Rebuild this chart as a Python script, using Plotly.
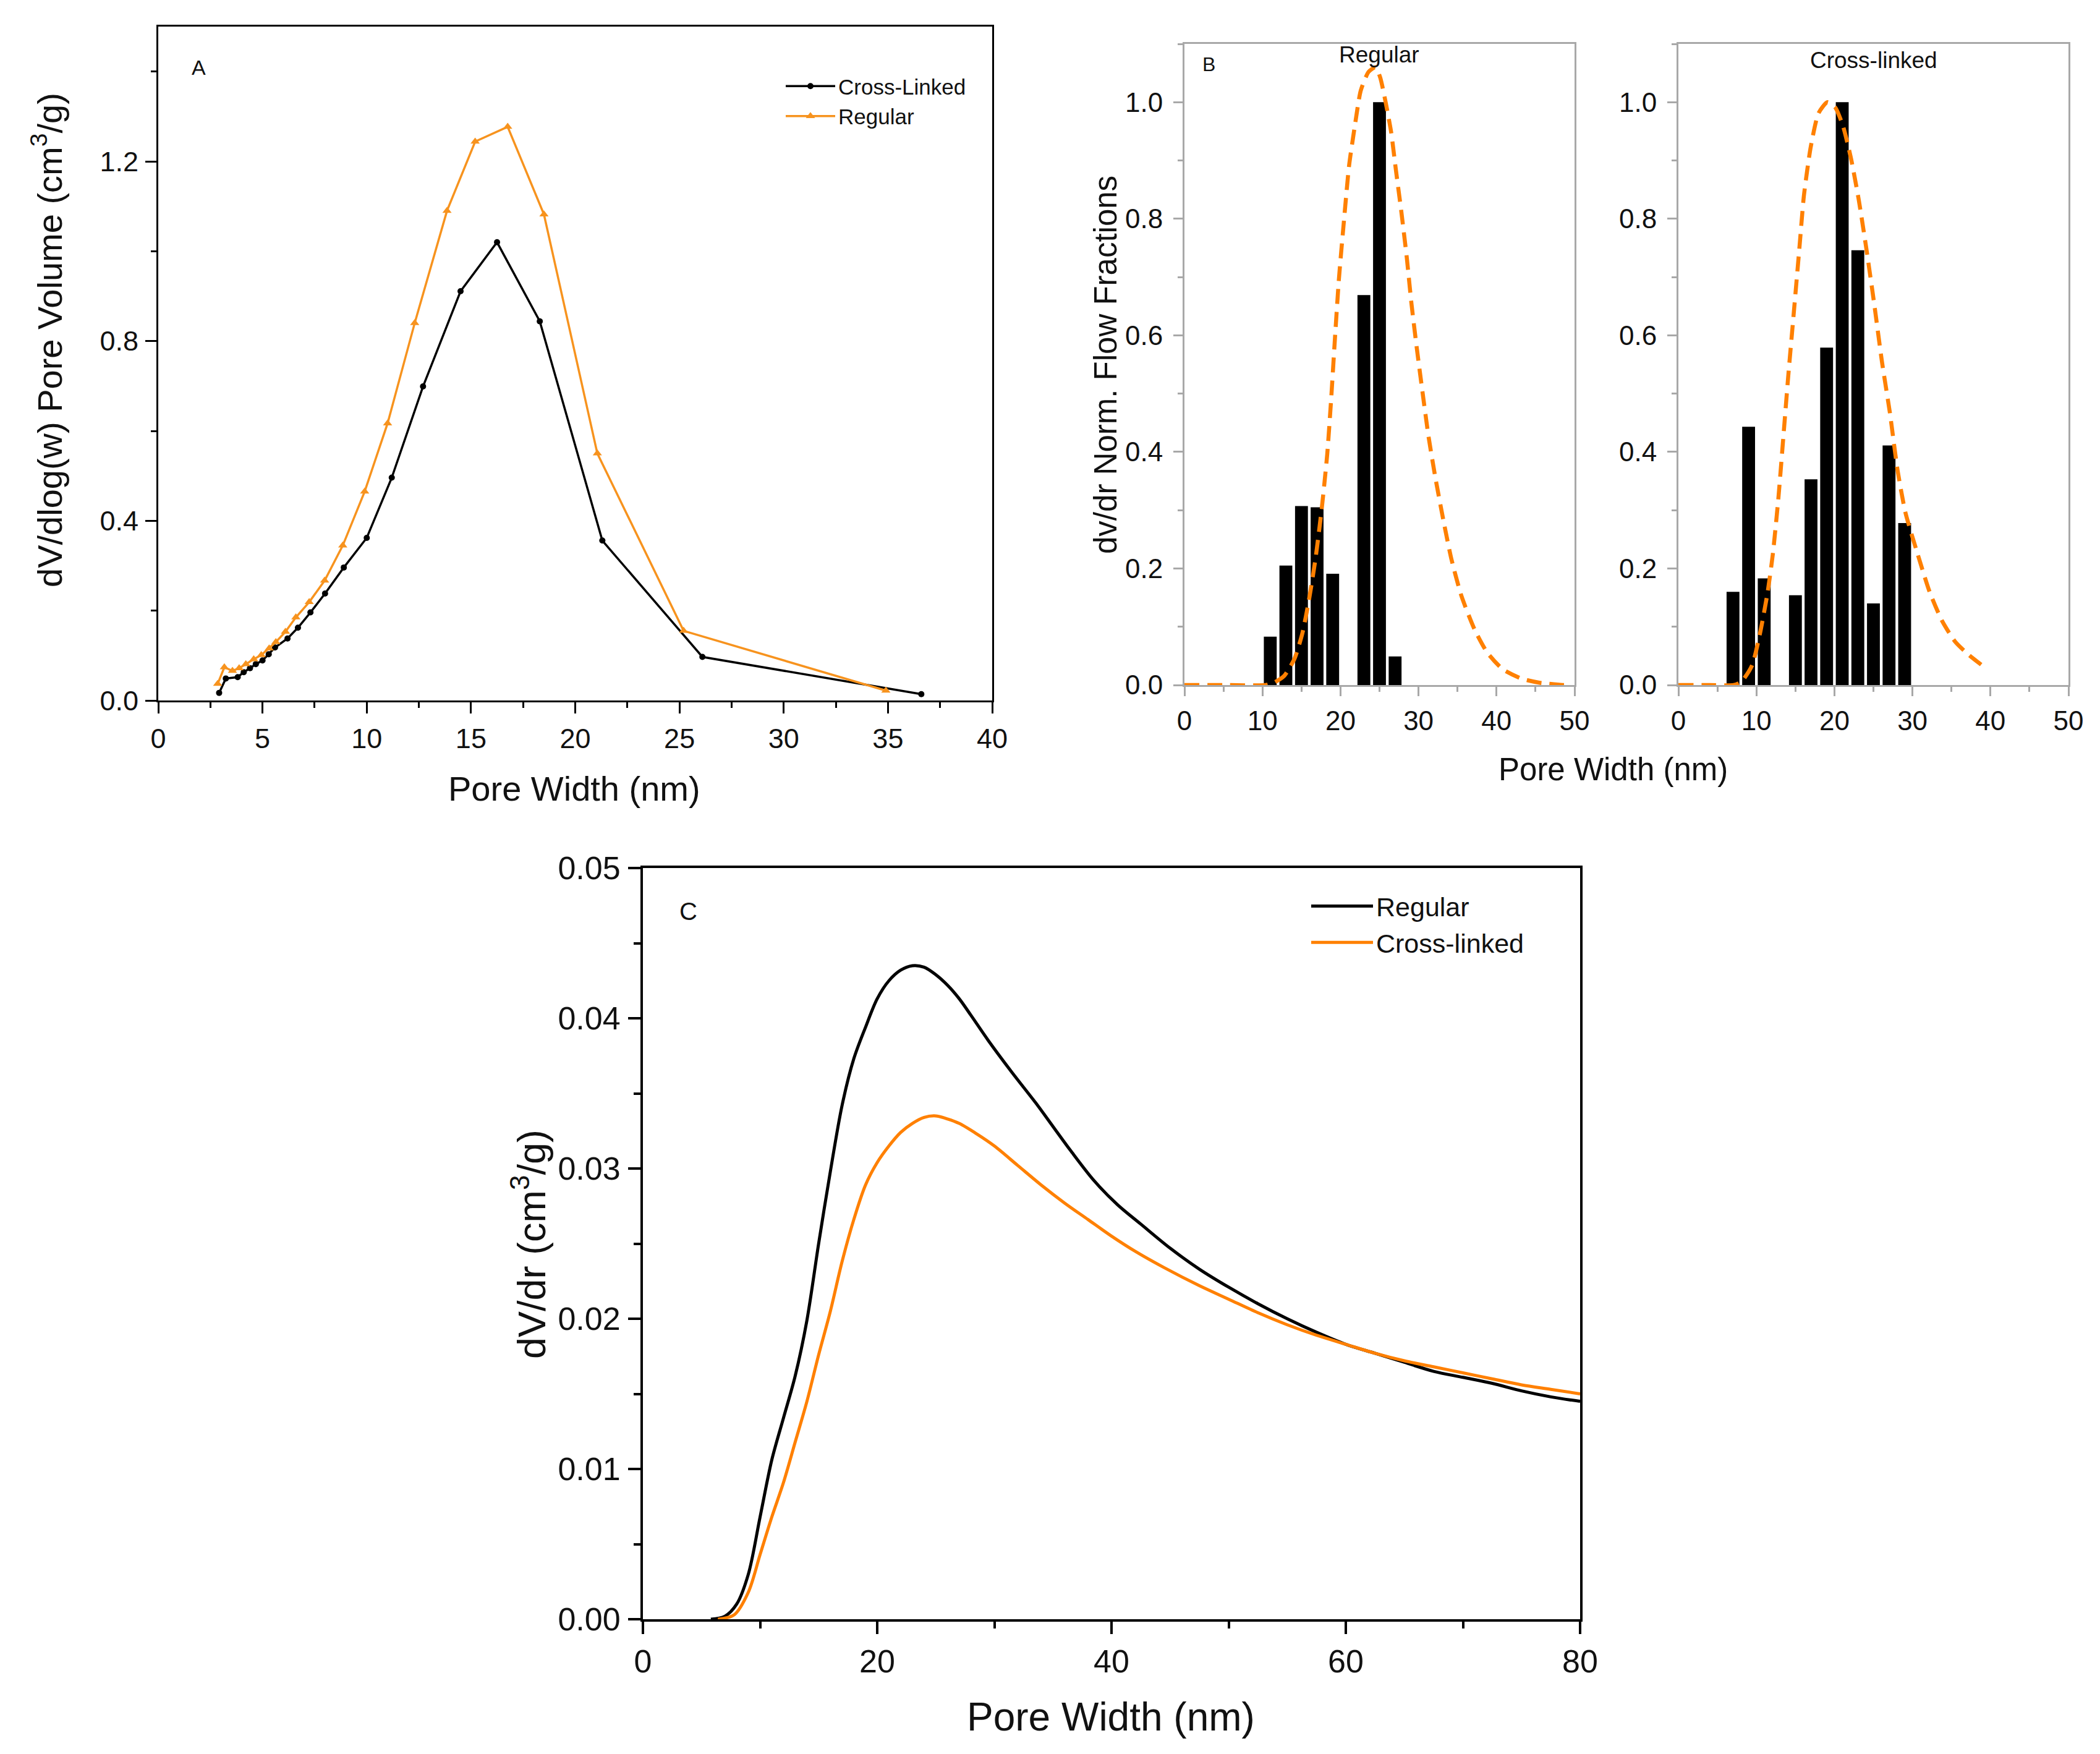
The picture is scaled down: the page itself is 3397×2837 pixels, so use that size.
import plotly.graph_objects as go

# ---- panel A: dV/dlog(w) pore volume ----
a_cl_width = [2.92, 3.24, 3.81, 4.1, 4.4, 4.68, 5.0, 5.3, 5.6, 6.2, 6.7, 7.3, 8.0, 8.9,
              10.0, 11.2, 12.7, 14.5, 16.25, 18.3, 21.3, 26.1, 36.6]
a_cl_vol = [0.017, 0.049, 0.052, 0.063, 0.072, 0.081, 0.089, 0.103, 0.118, 0.138, 0.162,
            0.196, 0.238, 0.296, 0.362, 0.496, 0.699, 0.911, 1.02, 0.844, 0.356, 0.097, 0.014]
a_reg_width = [2.85, 3.17, 3.56, 3.88, 4.2, 4.58, 4.94, 5.32, 5.64, 6.1, 6.6, 7.24, 7.98,
               8.85, 9.9, 11.0, 12.3, 13.85, 15.2, 16.76, 18.5, 21.06, 25.2, 34.9]
a_reg_vol = [0.037, 0.074, 0.066, 0.072, 0.081, 0.092, 0.101, 0.116, 0.130, 0.153, 0.185,
             0.219, 0.267, 0.345, 0.465, 0.617, 0.840, 1.090, 1.244, 1.277, 1.082, 0.550,
             0.155, 0.022]

# ---- panel B: normalised flow fractions ----
b_reg_bins = [11, 13, 15, 17, 19, 23, 25, 27]
b_reg_frac = [0.083, 0.205, 0.307, 0.305, 0.191, 0.669, 1.0, 0.049]
b_reg_fit_x = [0, 5, 10.4, 11.45, 12.8, 14.1, 15.1, 15.96, 16.8, 17.6, 18.3, 18.8, 19.3,
               19.8, 20.5, 21.1, 21.8, 22.6, 23.6, 24.5, 25.1, 25.8, 26.5, 27.1, 27.8,
               28.5, 29.1, 29.8, 30.5, 31.3, 32.2, 33.2, 34.2, 35.5, 37.2, 38.8, 40.8,
               43.2, 45.5, 48.5, 49.5]
b_reg_fit_y = [0, 0, 0, 0.004, 0.016, 0.045, 0.088, 0.146, 0.217, 0.303, 0.396, 0.490,
               0.597, 0.697, 0.805, 0.891, 0.956, 1.020, 1.052, 1.06, 1.042, 0.999, 0.948,
               0.884, 0.812, 0.733, 0.654, 0.576, 0.504, 0.425, 0.353, 0.282, 0.217, 0.153,
               0.095, 0.056, 0.027, 0.011, 0.004, 0, 0]

b_cl_bins = [7, 9, 11, 15, 17, 19, 21, 23, 25, 27, 29]
b_cl_frac = [0.160, 0.443, 0.183, 0.154, 0.353, 0.579, 1.0, 0.746, 0.140, 0.411, 0.278]
b_cl_fit_x = [0, 4, 7.1, 8.1, 9.45, 10.45, 11.45, 12.1, 12.8, 13.45, 14.1, 14.8, 15.5,
              16.1, 16.96, 17.96, 19.1, 20.1, 21.1, 22.1, 23.1, 24.1, 25.1, 26.1, 27.1,
              28.1, 29.1, 30.5, 32.2, 33.8, 35.5, 37.2, 39.2]
b_cl_fit_y = [0, 0, 0, 0.006, 0.034, 0.088, 0.160, 0.224, 0.318, 0.425, 0.533, 0.640,
              0.748, 0.841, 0.923, 0.981, 1.0, 0.991, 0.959, 0.905, 0.834, 0.748, 0.654,
              0.554, 0.468, 0.368, 0.296, 0.232, 0.160, 0.110, 0.074, 0.052, 0.031]

# ---- panel C: dV/dr ----
c_reg_width = [5.8, 7.0, 8.0, 9.0, 10.0, 11.0, 12.0, 13.0, 14.0, 15.0, 16.0, 17.0, 18.0,
               19.0, 20.0, 21.0, 22.0, 23.0, 24.0, 25.0, 26.0, 27.0, 28.0, 29.5, 31.5,
               33.5, 35.0, 36.5, 38.5, 40.5, 42.5, 45.0, 47.5, 50.0, 52.5, 55.0, 57.5,
               60.0, 62.5, 65.0, 67.5, 70.0, 72.5, 75.0, 77.5, 80.0]
c_reg_dvdr = [0, 0.0002, 0.001, 0.003, 0.0068, 0.0106, 0.0134, 0.0162, 0.0199, 0.0250,
              0.0298, 0.0342, 0.0373, 0.0394, 0.0413, 0.0425, 0.0432, 0.0435, 0.0434,
              0.0429, 0.0422, 0.0413, 0.0402, 0.0385, 0.0364, 0.0344, 0.0328, 0.0312,
              0.0292, 0.0276, 0.0263, 0.0247, 0.0233, 0.0221, 0.0210, 0.0200, 0.0191,
              0.0183, 0.0177, 0.0171, 0.0165, 0.0161, 0.0157, 0.0152, 0.0148, 0.0145]
c_cl_width = [6.4, 7.8, 9.0, 10.0, 11.0, 12.0, 13.0, 14.0, 15.0, 16.0, 17.0, 18.0, 19.0,
              20.0, 21.0, 22.0, 23.0, 24.0, 25.0, 26.0, 27.0, 28.5, 30.0, 32.0, 34.0,
              36.0, 38.0, 40.0, 42.0, 44.5, 47.5, 50.0, 52.5, 55.0, 57.5, 60.0, 62.5,
              65.0, 67.5, 70.0, 72.5, 75.0, 77.5, 80.0]
c_cl_dvdr = [0, 0.0003, 0.0018, 0.0043, 0.0068, 0.0091, 0.0118, 0.0145, 0.0176, 0.0205,
             0.0238, 0.0266, 0.0289, 0.0304, 0.0315, 0.0324, 0.0330, 0.0334, 0.0335,
             0.0333, 0.0330, 0.0323, 0.0315, 0.0302, 0.0289, 0.0277, 0.0266, 0.0255,
             0.0245, 0.0234, 0.0222, 0.0213, 0.0204, 0.0196, 0.0189, 0.0183, 0.0177,
             0.0172, 0.0168, 0.0164, 0.0160, 0.0156, 0.0153, 0.0150]

W, H = 3397, 2837
FONT = "Arial, Liberation Sans, sans-serif"
ORANGE_A = "#F7931E"
ORANGE = "#FF8000"
GREY = "#A8A8A8"


def dom_x(a, b):
    return [a / W, b / W]


def dom_y(top, bottom):
    return [1 - bottom / H, 1 - top / H]


fig = go.Figure()

# panel A
fig.add_trace(go.Scatter(x=a_cl_width, y=a_cl_vol, mode="lines+markers", name="Cross-Linked",
                         line=dict(color="black", width=3.5),
                         marker=dict(symbol="circle", size=10, color="black"),
                         xaxis="x", yaxis="y", legend="legend"))
fig.add_trace(go.Scatter(x=a_reg_width, y=a_reg_vol, mode="lines+markers", name="Regular",
                         line=dict(color=ORANGE_A, width=3.5),
                         marker=dict(symbol="triangle-up", size=13, color=ORANGE_A),
                         xaxis="x", yaxis="y", legend="legend"))

# panel B
fig.add_trace(go.Bar(x=b_reg_bins, y=b_reg_frac, width=1.65, marker=dict(color="black", line=dict(width=0)),
                     showlegend=False, xaxis="x2", yaxis="y2"))
fig.add_trace(go.Scatter(x=b_reg_fit_x, y=b_reg_fit_y, mode="lines", showlegend=False,
                         line=dict(color=ORANGE, width=6.5, dash="24px,13px", shape="spline", smoothing=0.6),
                         xaxis="x2", yaxis="y2"))
fig.add_trace(go.Bar(x=b_cl_bins, y=b_cl_frac, width=1.65, marker=dict(color="black", line=dict(width=0)),
                     showlegend=False, xaxis="x3", yaxis="y3"))
fig.add_trace(go.Scatter(x=b_cl_fit_x, y=b_cl_fit_y, mode="lines", showlegend=False,
                         line=dict(color=ORANGE, width=6.5, dash="24px,13px", shape="spline", smoothing=0.6),
                         xaxis="x3", yaxis="y3"))

# panel C
fig.add_trace(go.Scatter(x=c_reg_width, y=c_reg_dvdr, mode="lines", name="Regular",
                         line=dict(color="black", width=5, shape="spline", smoothing=0.9),
                         xaxis="x4", yaxis="y4", legend="legend2"))
fig.add_trace(go.Scatter(x=c_cl_width, y=c_cl_dvdr, mode="lines", name="Cross-linked",
                         line=dict(color=ORANGE, width=5, shape="spline", smoothing=0.9),
                         xaxis="x4", yaxis="y4", legend="legend2"))


def axis(domain, rng, dtick, minor, color, lw, tlen, fsize, anchor, fmt=None, standoff=15):
    d = dict(domain=domain, range=rng, dtick=dtick, tick0=0, ticks="outside", ticklen=tlen,
             tickwidth=lw, tickcolor=color, showline=True, linecolor=color, linewidth=lw,
             mirror=True, showgrid=False, zeroline=False, anchor=anchor, automargin=False,
             tickfont=dict(family=FONT, size=fsize, color="#111"),
             ticklabelstandoff=standoff,
             minor=dict(dtick=minor, ticks="outside", ticklen=int(tlen * 0.55), tickwidth=lw,
                        tickcolor=color, showgrid=False))
    if fmt:
        d["tickformat"] = fmt
    return d


fig.update_layout(
    width=W, height=H, margin=dict(l=0, r=0, t=0, b=0, autoexpand=False),
    paper_bgcolor="white", plot_bgcolor="white",
    font=dict(family=FONT, color="#111"),
    xaxis=axis(dom_x(256, 1605), [0, 40], 5, 2.5, "black", 3, 18, 45, "y", standoff=2),
    yaxis=axis(dom_y(43, 1133), [0, 1.5], 0.4, 0.2, "black", 3, 18, 45, "x", ".1f", standoff=2),
    xaxis2=axis(dom_x(1916, 2547), [0, 50], 10, 5, GREY, 3, 15, 44, "y2", standoff=2),
    yaxis2=axis(dom_y(71, 1108), [0, 1.1], 0.2, 0.1, GREY, 3, 15, 44, "x2", ".1f", standoff=8),
    xaxis3=axis(dom_x(2715, 3346), [0, 50], 10, 5, GREY, 3, 15, 44, "y3", standoff=2),
    yaxis3=axis(dom_y(71, 1108), [0, 1.1], 0.2, 0.1, GREY, 3, 15, 44, "x3", ".1f", standoff=8),
    xaxis4=axis(dom_x(1040, 2556), [0, 80], 20, 10, "black", 4, 20, 52, "y4", standoff=0),
    yaxis4=axis(dom_y(1404, 2619), [0, 0.05], 0.01, 0.005, "black", 4, 20, 52, "x4", ".2f", standoff=2),
    legend=dict(x=1266 / W, y=1 - 110 / H, xanchor="left", yanchor="top", bgcolor="rgba(0,0,0,0)",
                font=dict(family=FONT, size=35, color="#111"), itemwidth=80, tracegroupgap=0),
    legend2=dict(x=2116 / W, y=1 - 1431 / H, xanchor="left", yanchor="top", bgcolor="rgba(0,0,0,0)",
                 font=dict(family=FONT, size=43, color="#111"), itemwidth=100, tracegroupgap=0),
)

notes = [
    ("A", 321, 109, 34, 0),
    ("dV/dlog(w) Pore Volume (cm<sup>3</sup>/g)", 76, 550, 56, -90),
    ("Pore Width (nm)", 929, 1275, 56, 0),
    ("B", 1955, 104, 32, 0),
    ("Regular", 2231, 88, 37, 0),
    ("Cross-linked", 3031, 98, 37, 0),
    ("dv/dr Norm. Flow Fractions", 1789, 590, 51, -90),
    ("Pore Width (nm)", 2609, 1244, 51, 0),
    ("C", 1113, 1474, 40, 0),
    ("dV/dr (cm<sup>3</sup>/g)", 855, 2013, 63, -90),
    ("Pore Width (nm)", 1797, 2777, 64, 0),
]
for text, x, y, size, ang in notes:
    fig.add_annotation(text=text, x=x / W, y=1 - y / H, xref="paper", yref="paper",
                       showarrow=False, textangle=ang, xanchor="center", yanchor="middle",
                       font=dict(family=FONT, size=size, color="#111"))

fig.write_html("out.html", config={"displayModeBar": False},
               post_script="document.body.style.margin='0';document.body.style.overflow='hidden';")
